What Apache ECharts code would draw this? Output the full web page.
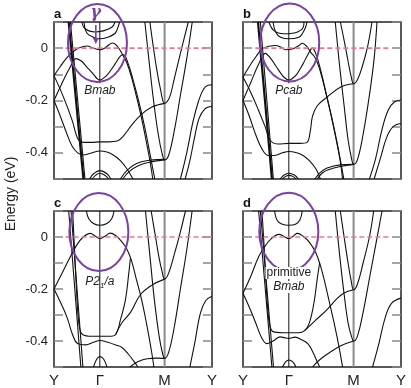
<!DOCTYPE html>
<html><head><meta charset="utf-8">
<script src="https://cdn.jsdelivr.net/npm/echarts@6/dist/echarts.min.js"></script>
<style>html,body{margin:0;padding:0;background:#fff}#c{width:411px;height:388px}</style>
</head><body><div id="c"></div>
<script>
// k-path labels and positions
const K_LABELS = ['Y', 'Γ', 'M', 'Y'];
const K_POS = [0, 0.29, 0.70, 1];
const GAMMA = 0.29, M_PT = 0.70;
const E_MIN = -0.5, E_MAX = 0.1;
const E_LABELS = [0, -0.2, -0.4];
const PANEL_NAMES = ['a', 'b', 'c', 'd'];

// ---------- panel a (Bmab) ----------
const a_steep1 = [[0.093,0.1],[0.186,-0.5]];
const a_steep2 = [[0.104,0.1],[0.196,-0.5]];
const a_top1 = [[0.176,0.1],[0.197,0.074],[0.26,0.062],[0.31,0.066],[0.366,0.08],[0.387,0.1]];
const a_top2 = [[0.19,0.1],[0.208,0.058],[0.25,0.042],[0.29,0.036],[0.34,0.042],[0.387,0.057],[0.405,0.08],[0.415,0.1]];
const a_fermi = [[0,-0.105],[0.04,-0.07],[0.09,-0.03],[0.14,-0.005],[0.18,0.005],[0.21,0.008],[0.25,0.0],[0.29,-0.006],[0.32,0.0],[0.35,0.014],[0.372,0.02],[0.4,0.008],[0.43,-0.02],[0.46,-0.055],[0.49,-0.11],[0.52,-0.18],[0.555,-0.27],[0.585,-0.36],[0.61,-0.44],[0.625,-0.5]];
const a_vee = [[0,-0.2],[0.05,-0.135],[0.1,-0.075],[0.14,-0.04],[0.175,-0.05],[0.208,-0.072],[0.25,-0.1],[0.272,-0.116],[0.29,-0.122],[0.31,-0.116],[0.34,-0.1],[0.387,-0.06],[0.42,-0.03],[0.44,-0.025],[0.47,-0.06],[0.5,-0.12],[0.535,-0.2],[0.57,-0.29],[0.6,-0.38],[0.625,-0.46],[0.638,-0.5]];
const a_wide = [[0,-0.105],[0.06,-0.187],[0.115,-0.276],[0.14,-0.33],[0.158,-0.352],[0.19,-0.36],[0.24,-0.36],[0.29,-0.358],[0.35,-0.358],[0.4,-0.355],[0.44,-0.335],[0.49,-0.295],[0.55,-0.255],[0.62,-0.225],[0.70,-0.211]];
const a_low = [[0,-0.2],[0.04,-0.26],[0.08,-0.325],[0.115,-0.375],[0.15,-0.4],[0.19,-0.408],[0.24,-0.4],[0.29,-0.393],[0.34,-0.398],[0.38,-0.41],[0.42,-0.43],[0.46,-0.46],[0.5,-0.5]];
const a_mlow1 = [[0.42,-0.5],[0.465,-0.465],[0.526,-0.44],[0.61,-0.428],[0.70,-0.425]];
const a_mlow2 = [[0.435,-0.5],[0.475,-0.472],[0.53,-0.45],[0.61,-0.435],[0.70,-0.427]];
const a_bot1 = [[0.225,-0.5],[0.25,-0.48],[0.29,-0.468],[0.335,-0.48],[0.36,-0.5]];
const a_bot2 = [[0.24,-0.5],[0.265,-0.485],[0.29,-0.478],[0.32,-0.485],[0.345,-0.5]];
const a_m1 = [[0.607,0.1],[0.625,0.02],[0.65,-0.08],[0.675,-0.16],[0.70,-0.211],[0.73,-0.19],[0.76,-0.12],[0.8,-0.02],[0.85,0.1]];
const a_m2 = [[0.575,0.1],[0.6,-0.04],[0.63,-0.2],[0.66,-0.33],[0.685,-0.405],[0.70,-0.427],[0.725,-0.41],[0.76,-0.32],[0.8,-0.18],[0.84,-0.04],[0.875,0.1]];
const a_y1 = [[0.8,-0.5],[0.84,-0.4],[0.88,-0.28],[0.917,-0.198],[0.948,-0.155],[0.975,-0.142],[1,-0.14]];
const a_y2 = [[0.83,-0.5],[0.86,-0.43],[0.89,-0.34],[0.917,-0.27],[0.955,-0.232],[1,-0.222]];
const a_ef = [[0.073,0],[1,0]];

// ---------- panel b (Pcab) ----------
const b_steep1 = [[0.095,0.1],[0.183,-0.5]];
const b_steep2 = [[0.11,0.1],[0.192,-0.5]];
const b_top1 = [[0.164,0.1],[0.196,0.067],[0.259,0.055],[0.312,0.057],[0.375,0.074],[0.386,0.1]];
const b_top2 = [[0.19,0.1],[0.207,0.061],[0.238,0.042],[0.29,0.036],[0.354,0.042],[0.375,0.055],[0.396,0.08],[0.405,0.1]];
const b_fermi = [[0,-0.11],[0.04,-0.07],[0.085,-0.03],[0.122,-0.002],[0.164,0.007],[0.207,0.01],[0.238,0.004],[0.27,-0.006],[0.312,-0.003],[0.354,0.01],[0.375,0.019],[0.407,0.004],[0.428,-0.015],[0.46,-0.04],[0.49,-0.09],[0.52,-0.16],[0.555,-0.25],[0.59,-0.35],[0.615,-0.43],[0.63,-0.5]];
const b_vee = [[0,-0.2],[0.05,-0.13],[0.1,-0.06],[0.14,-0.02],[0.17,-0.035],[0.21,-0.07],[0.25,-0.105],[0.272,-0.117],[0.29,-0.122],[0.31,-0.117],[0.34,-0.1],[0.38,-0.06],[0.41,-0.025],[0.44,0.0],[0.46,-0.02],[0.49,-0.08],[0.525,-0.17],[0.56,-0.26],[0.595,-0.36],[0.62,-0.44],[0.638,-0.5]];
const b_wide = [[0,-0.11],[0.05,-0.17],[0.1,-0.24],[0.14,-0.3],[0.165,-0.345],[0.19,-0.362],[0.22,-0.366],[0.29,-0.364],[0.36,-0.364],[0.405,-0.36],[0.425,-0.32],[0.44,-0.26],[0.47,-0.22],[0.532,-0.187],[0.616,-0.149],[0.70,-0.136]];
const b_low = [[0,-0.2],[0.04,-0.26],[0.08,-0.33],[0.12,-0.385],[0.16,-0.41],[0.2,-0.41],[0.25,-0.4],[0.29,-0.395],[0.34,-0.4],[0.38,-0.41],[0.42,-0.43],[0.46,-0.46],[0.49,-0.5]];
const b_mlow1 = [[0.455,-0.5],[0.49,-0.475],[0.532,-0.458],[0.616,-0.446],[0.70,-0.444]];
const b_mlow2 = [[0.47,-0.5],[0.5,-0.478],[0.54,-0.465],[0.616,-0.452],[0.70,-0.444]];
const b_bot1 = [[0.235,-0.5],[0.26,-0.485],[0.29,-0.478],[0.325,-0.485],[0.35,-0.5]];
const b_bot2 = [[0.25,-0.5],[0.27,-0.49],[0.29,-0.486],[0.315,-0.49],[0.335,-0.5]];
const b_m1 = [[0.616,0.1],[0.64,0.03],[0.665,-0.05],[0.685,-0.11],[0.70,-0.136],[0.725,-0.12],[0.755,-0.07],[0.79,0.01],[0.816,0.1]];
const b_m2 = [[0.584,0.1],[0.61,-0.06],[0.64,-0.22],[0.665,-0.35],[0.688,-0.425],[0.70,-0.444],[0.725,-0.425],[0.76,-0.33],[0.8,-0.18],[0.83,-0.04],[0.848,0.1]];
const b_y1 = [[0.8,-0.5],[0.84,-0.42],[0.88,-0.31],[0.92,-0.235],[0.96,-0.205],[1,-0.198]];
const b_y2 = [[0.83,-0.5],[0.87,-0.42],[0.91,-0.34],[0.95,-0.3],[1,-0.288]];
const b_ef = [[0.078,0],[0.93,0]];

// ---------- panel c (P2_1/a) ----------
const c_steep1 = [[0.093,0.1],[0.17,-0.5]];
const c_steep2 = [[0.108,0.1],[0.183,-0.5]];
const c_top = [[0.205,0.1],[0.22,0.07],[0.25,0.052],[0.29,0.045],[0.335,0.052],[0.365,0.07],[0.38,0.1]];
const c_fermi = [[0,-0.2],[0.05,-0.14],[0.1,-0.08],[0.14,-0.035],[0.18,-0.003],[0.23,0.014],[0.26,0.004],[0.29,-0.006],[0.325,0.004],[0.355,0.015],[0.39,0.006],[0.425,-0.015],[0.46,-0.045],[0.49,-0.09],[0.52,-0.16],[0.547,-0.222],[0.575,-0.3],[0.6,-0.38],[0.62,-0.45],[0.632,-0.5]];
const c_wide = [[0.118,0.1],[0.13,-0.05],[0.142,-0.2],[0.152,-0.3],[0.162,-0.35],[0.18,-0.375],[0.24,-0.382],[0.29,-0.382],[0.35,-0.382],[0.39,-0.375],[0.42,-0.32],[0.452,-0.242],[0.473,-0.141],[0.484,-0.08]];
const c_mband = [[0.39,-0.375],[0.43,-0.33],[0.484,-0.29],[0.547,-0.222],[0.62,-0.185],[0.70,-0.162]];
const c_low = [[0,-0.2],[0.04,-0.25],[0.083,-0.31],[0.12,-0.38],[0.15,-0.41],[0.2,-0.415],[0.25,-0.405],[0.29,-0.398],[0.34,-0.405],[0.39,-0.415],[0.43,-0.425],[0.47,-0.45],[0.52,-0.49],[0.53,-0.5]];
const c_mlow = [[0.48,-0.5],[0.53,-0.48],[0.59,-0.468],[0.65,-0.466],[0.70,-0.467]];
const c_bot = [[0.25,-0.5],[0.27,-0.47],[0.29,-0.46],[0.315,-0.47],[0.335,-0.5]];
const c_m1 = [[0.615,0.1],[0.64,0.01],[0.665,-0.08],[0.685,-0.135],[0.70,-0.162],[0.725,-0.14],[0.76,-0.07],[0.8,0.02],[0.832,0.1]];
const c_m2 = [[0.579,0.1],[0.605,-0.06],[0.635,-0.24],[0.665,-0.38],[0.688,-0.45],[0.70,-0.467],[0.725,-0.445],[0.76,-0.35],[0.8,-0.2],[0.84,-0.05],[0.874,0.1]];
const c_y1 = [[0.86,-0.5],[0.89,-0.41],[0.927,-0.292],[0.96,-0.245],[1,-0.228]];
const c_ef = [[0.073,0],[1,0]];

// ---------- panel d (primitive Bmab) ----------
const d_steep1 = [[0.099,0.1],[0.183,-0.5]];
const d_steep2 = [[0.11,0.1],[0.193,-0.5]];
const d_top = [[0.2,0.1],[0.215,0.065],[0.245,0.05],[0.29,0.045],[0.335,0.05],[0.36,0.065],[0.375,0.1]];
const d_fermi = [[0,-0.216],[0.05,-0.15],[0.099,-0.076],[0.14,-0.035],[0.173,-0.01],[0.228,0.01],[0.26,0.002],[0.29,-0.006],[0.32,0.004],[0.344,0.014],[0.38,0.003],[0.42,-0.02],[0.46,-0.06],[0.49,-0.11],[0.52,-0.18],[0.55,-0.26],[0.58,-0.34],[0.61,-0.43],[0.63,-0.5]];
const d_wide = [[0.12,0.1],[0.135,-0.05],[0.148,-0.2],[0.16,-0.3],[0.172,-0.345],[0.19,-0.364],[0.25,-0.368],[0.29,-0.368],[0.35,-0.368],[0.39,-0.36],[0.42,-0.33],[0.45,-0.25],[0.47,-0.16],[0.485,-0.1]];
const d_mband = [[0.39,-0.36],[0.46,-0.32],[0.532,-0.279],[0.59,-0.24],[0.637,-0.216],[0.70,-0.203]];
const d_low = [[0,-0.216],[0.04,-0.27],[0.08,-0.33],[0.12,-0.39],[0.15,-0.41],[0.19,-0.4],[0.236,-0.384],[0.265,-0.388],[0.29,-0.39],[0.33,-0.385],[0.37,-0.395],[0.41,-0.41],[0.44,-0.44],[0.47,-0.48],[0.485,-0.5]];
const d_mlow = [[0.44,-0.5],[0.48,-0.475],[0.532,-0.451],[0.616,-0.419],[0.70,-0.4]];
const d_bot = [[0.25,-0.5],[0.27,-0.48],[0.29,-0.473],[0.315,-0.48],[0.335,-0.5]];
const d_m1 = [[0.616,0.1],[0.64,0.0],[0.665,-0.1],[0.685,-0.17],[0.70,-0.203],[0.725,-0.18],[0.76,-0.1],[0.8,0.0],[0.827,0.1]];
const d_m2 = [[0.584,0.1],[0.61,-0.06],[0.64,-0.22],[0.665,-0.33],[0.688,-0.385],[0.70,-0.4],[0.725,-0.38],[0.76,-0.29],[0.8,-0.16],[0.84,-0.03],[0.88,0.1]];
const d_y1 = [[0.82,-0.5],[0.86,-0.41],[0.9,-0.31],[0.94,-0.255],[1,-0.235]];
const d_ef = [[0.078,0],[0.93,0]];

const panels = [
  {bands:[a_steep2,a_top1,a_top2,a_fermi,a_vee,a_wide,a_low,a_mlow1,a_mlow2,a_bot1,a_bot2,a_m1,a_m2,a_y1,a_y2], thick:[a_steep1], ef:a_ef},
  {bands:[b_steep2,b_top1,b_top2,b_fermi,b_vee,b_wide,b_low,b_mlow1,b_mlow2,b_bot1,b_bot2,b_m1,b_m2,b_y1,b_y2], thick:[b_steep1], ef:b_ef},
  {bands:[c_steep1,c_steep2,c_top,c_fermi,c_wide,c_mband,c_low,c_mlow,c_bot,c_m1,c_m2,c_y1], thick:[], ef:c_ef},
  {bands:[d_steep1,d_steep2,d_top,d_fermi,d_wide,d_mband,d_low,d_mlow,d_bot,d_m1,d_m2,d_y1], thick:[], ef:d_ef}
];

const gridBoxes = [
  {left:54, top:22, width:158, height:157},
  {left:243, top:22, width:158, height:157},
  {left:54, top:211, width:158, height:157},
  {left:243, top:211, width:158, height:157}
];
const FONT = '"Liberation Sans", Arial, sans-serif';

const chart = echarts.init(document.getElementById('c'), null, {renderer:'canvas'});
const grid = [], xAxis = [], yAxis = [], series = [];
gridBoxes.forEach((g, i) => {
  grid.push(Object.assign({show:true, borderColor:'#222', borderWidth:1.5, backgroundColor:'transparent'}, g));
  const bottomRow = i >= 2, leftCol = i % 2 === 0;
  xAxis.push({type:'value', gridIndex:i, min:0, max:1,
    axisLine:{show:false}, axisTick:{show:false}, splitLine:{show:false},
    axisLabel:{show:bottomRow, customValues:K_POS, margin:6, fontSize:15, color:'#222', fontFamily:FONT,
      formatter:(v) => { const j = K_POS.findIndex(p => Math.abs(p - v) < 1e-6); return j >= 0 ? K_LABELS[j] : ''; }}
  });
  const yBase = {type:'value', gridIndex:i, min:E_MIN, max:E_MAX, interval:0.1,
    axisLine:{show:false}, splitLine:{show:false},
    axisTick:{show:true, inside:true, length:9, lineStyle:{color:'#888', width:1.5}}};
  yAxis.push(Object.assign({}, yBase, {position:'left',
    axisLabel:{show:leftCol, margin:6, fontSize:13, color:'#222', fontFamily:FONT,
      formatter:(v) => { const r = Math.round(v*10)/10; return E_LABELS.some(t => Math.abs(t - r) < 1e-9) ? String(r) : ''; }}}));
  yAxis.push(Object.assign({}, yBase, {position:'right', axisLabel:{show:false}}));
  const yi = 2*i;
  const p = panels[i];
  series.push({type:'line', xAxisIndex:i, yAxisIndex:yi, data:[[GAMMA,E_MIN],[GAMMA,E_MAX]], symbol:'none', silent:true,
    lineStyle:{color:'#111', width:1}, z:1});
  series.push({type:'line', xAxisIndex:i, yAxisIndex:yi, data:[[M_PT,E_MIN],[M_PT,E_MAX]], symbol:'none', silent:true,
    lineStyle:{color:'#8a8a8a', width:2}, z:1});
  p.bands.forEach(b => series.push({type:'line', xAxisIndex:i, yAxisIndex:yi, data:b, symbol:'none', smooth:0.4,
    silent:true, lineStyle:{color:'#111', width:1.1}, z:2}));
  p.thick.forEach(b => series.push({type:'line', xAxisIndex:i, yAxisIndex:yi, data:b, symbol:'none',
    silent:true, lineStyle:{color:'#111', width:2.2}, z:2}));
  series.push({type:'line', xAxisIndex:i, yAxisIndex:yi, data:p.ef, symbol:'none', silent:true,
    lineStyle:{color:'#f4728f', width:1.6, type:[5,3]}, z:3});
});

chart.setOption({animation:false, backgroundColor:'#fff', grid, xAxis, yAxis, series});

const px = (gi, pt) => chart.convertToPixel({gridIndex:gi}, pt);
const PURPLE = '#7b3fa6';
const graphic = [];
const ellipseCenters = [[0.275,0.02],[0.296,0.022],[0.284,0.019],[0.29,0.02]];
ellipseCenters.forEach((c, i) => {
  const p = px(i, c);
  graphic.push({type:'ellipse', shape:{cx:p[0], cy:p[1], rx:29.5, ry:39}, style:{fill:null, stroke:PURPLE, lineWidth:2}, z:100});
});
PANEL_NAMES.forEach((n, i) => {
  const g = gridBoxes[i];
  graphic.push({type:'text', x:g.left, y:g.top - 1, style:{text:n, font:'bold 13px ' + FONT, fill:'#111', textVerticalAlign:'bottom'}, z:100});
});
// gamma marker
const gp = px(0, [GAMMA, E_MAX]);
graphic.push({type:'text', x:gp[0] - 4, y:13, style:{text:'γ', font:'italic bold 16px "DejaVu Serif", serif', fill:PURPLE, textAlign:'center', textVerticalAlign:'middle'}, z:101});
graphic.push({type:'line', shape:{x1:gp[0]-4, y1:25, x2:gp[0]-4, y2:40}, style:{stroke:PURPLE, lineWidth:1.6}, z:101});
graphic.push({type:'polygon', shape:{points:[[gp[0]-7,38],[gp[0]-1,38],[gp[0]-4,44]]}, style:{fill:PURPLE}, z:101});
// structure labels
const lab = (gi, e, rich, extra) => { const p = px(gi, [GAMMA, e]); return Object.assign({type:'text', x:p[0], y:p[1], z:102,
  style:Object.assign({textAlign:'center', textVerticalAlign:'middle'}, rich)}, extra || {}); };
graphic.push(lab(0, -0.161, {text:'Bmab', font:'italic 12px ' + FONT, fill:'#222', backgroundColor:'#fff', padding:[1,2]}));
graphic.push(lab(1, -0.161, {text:'Pcab', font:'italic 12px ' + FONT, fill:'#222', backgroundColor:'#fff', padding:[1,2]}));
graphic.push(lab(2, -0.173, {text:'{i|P2}{s|1}{i|/a}', rich:{i:{font:'italic 12px ' + FONT, fill:'#222'}, s:{font:'italic 8px ' + FONT, fill:'#222', padding:[8,0,0,0]}}}));
graphic.push(lab(3, -0.138, {text:'primitive', font:'12px ' + FONT, fill:'#222', backgroundColor:'#fff', padding:[0,1]}));
graphic.push(lab(3, -0.192, {text:'Bmab', font:'italic 12px ' + FONT, fill:'#222', backgroundColor:'#fff', padding:[0,1]}));
// y axis title
graphic.push({type:'text', x:11, y:194, rotation:Math.PI/2, style:{text:'Energy (eV)', font:'14px ' + FONT, fill:'#222', textAlign:'center', textVerticalAlign:'middle'}, z:100});
chart.setOption({graphic});
</script></body></html>
